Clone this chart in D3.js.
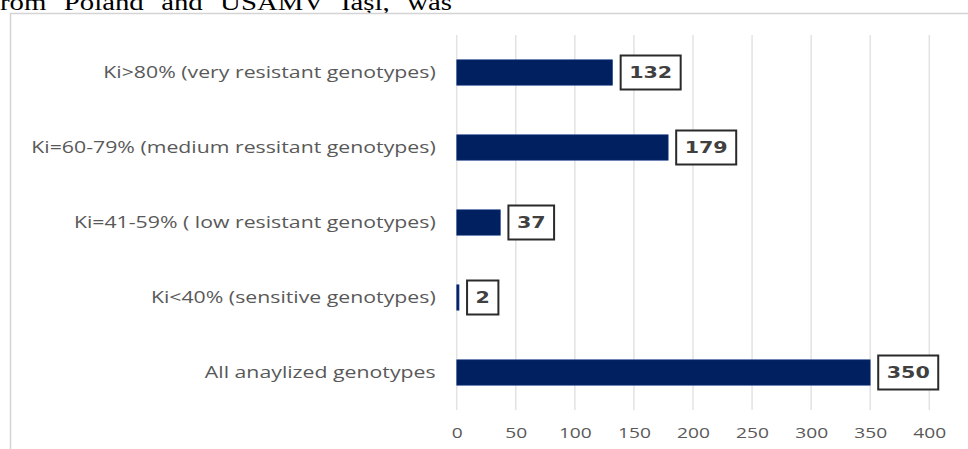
<!DOCTYPE html>
<html>
<head>
<meta charset="utf-8">
<script src="https://cdn.jsdelivr.net/npm/d3@7"></script>
<style>
  html, body { margin: 0; padding: 0; background: #fff; }
  svg { display: block; }
</style>
</head>
<body>
<svg id="chart" width="968" height="449"></svg>
<script>
// Genotype counts per resistance class (Ki index)
const categories = [
  "Ki>80% (very resistant genotypes)",
  "Ki=60-79% (medium ressitant genotypes)",
  "Ki=41-59% ( low resistant genotypes)",
  "Ki<40% (sensitive genotypes)",
  "All anaylized genotypes"
];
const counts = [132, 179, 37, 2, 350];
const tickValues = [0, 50, 100, 150, 200, 250, 300, 350, 400];
const headerText = "rom Poland and USAMV Iași, was";

const W = 968, H = 449;
const plot = { left: 456.7, right: 929.3, top: 35, bottom: 410 };
const SX_CAT = 1.33;      // horizontal stretch of category labels
const SX_TICK = 1.28;     // horizontal stretch of tick labels
const SX_VAL = 1.25;      // horizontal stretch of value labels
const BAR = "#002060";

const svg = d3.select("#chart");

// running text line above the chart frame
svg.append("text")
  .attr("transform", "translate(0,9.5) scale(1.2,1)")
  .attr("font-family", "'Liberation Serif', 'Times New Roman', serif")
  .attr("font-size", 24)
  .attr("word-spacing", 8.5)
  .attr("fill", "#000")
  .text(headerText);

// chart frame
svg.append("rect")
  .attr("x", 10.5).attr("y", 13.5)
  .attr("width", W + 20).attr("height", H + 20)
  .attr("fill", "#fff")
  .attr("stroke", "#d4d4d4").attr("stroke-width", 1.5);

const x = d3.scaleLinear().domain([0, 400]).range([plot.left, plot.right]);
const y = d3.scaleBand().domain(categories).range([plot.top, plot.bottom]).paddingInner(0.66).paddingOuter(0.33);

// vertical gridlines
svg.append("g")
  .selectAll("line")
  .data(tickValues)
  .join("line")
  .attr("x1", d => x(d)).attr("x2", d => x(d))
  .attr("y1", plot.top).attr("y2", plot.bottom)
  .attr("stroke", "#e3e3e3").attr("stroke-width", 1.5);

// x-axis tick labels
const xAxis = d3.axisBottom(x).tickValues(tickValues).tickSize(0).tickPadding(0);
const gx = svg.append("g").attr("transform", `translate(0,${plot.bottom + 28})`).call(xAxis);
gx.select(".domain").remove();
gx.selectAll("text")
  .attr("font-family", "'Open Sans', sans-serif")
  .attr("font-size", 15)
  .attr("fill", "#595959")
  .attr("dy", 0)
  .attr("transform", `scale(${SX_TICK},1)`);

// category labels
const gy = svg.append("g");
gy.selectAll("g")
  .data(categories)
  .join("g")
  .attr("transform", d => `translate(${plot.left - 21},${y(d) + y.bandwidth() / 2}) scale(${SX_CAT},1)`)
  .append("text")
  .attr("text-anchor", "end")
  .attr("dominant-baseline", "central")
  .attr("font-family", "'Open Sans', sans-serif")
  .attr("font-size", 16)
  .attr("fill", "#595959")
  .text(d => d);

// bars
svg.append("g")
  .selectAll("rect")
  .data(categories)
  .join("rect")
  .attr("x", x(0))
  .attr("y", d => y(d))
  .attr("width", (d, i) => x(counts[i]) - x(0))
  .attr("height", y.bandwidth())
  .attr("fill", BAR)
  .attr("stroke", "#2f4f9a").attr("stroke-width", 0.6);

// boxed value labels
const lbl = svg.append("g")
  .selectAll("g")
  .data(categories)
  .join("g")
  .attr("transform", (d, i) => `translate(${x(counts[i]) + 7},${y(d) + y.bandwidth() / 2})`);

lbl.each(function (d, i) {
  const g = d3.select(this);
  const box = g.append("rect");
  const t = g.append("text")
    .attr("font-family", "'DejaVu Sans', Verdana, sans-serif")
    .attr("font-weight", "bold")
    .attr("font-size", 16.5)
    .attr("fill", "#404040")
    .attr("dominant-baseline", "central")
    .attr("transform", `translate(9.5,0) scale(${SX_VAL},1)`)
    .text(counts[i]);
  const tw = t.node().getComputedTextLength() * SX_VAL;
  box.attr("x", 1).attr("y", -17)
    .attr("width", tw + 17).attr("height", 34)
    .attr("fill", "#fff")
    .attr("stroke", "#2a2a2a").attr("stroke-width", 2);
});
</script>
</body>
</html>
